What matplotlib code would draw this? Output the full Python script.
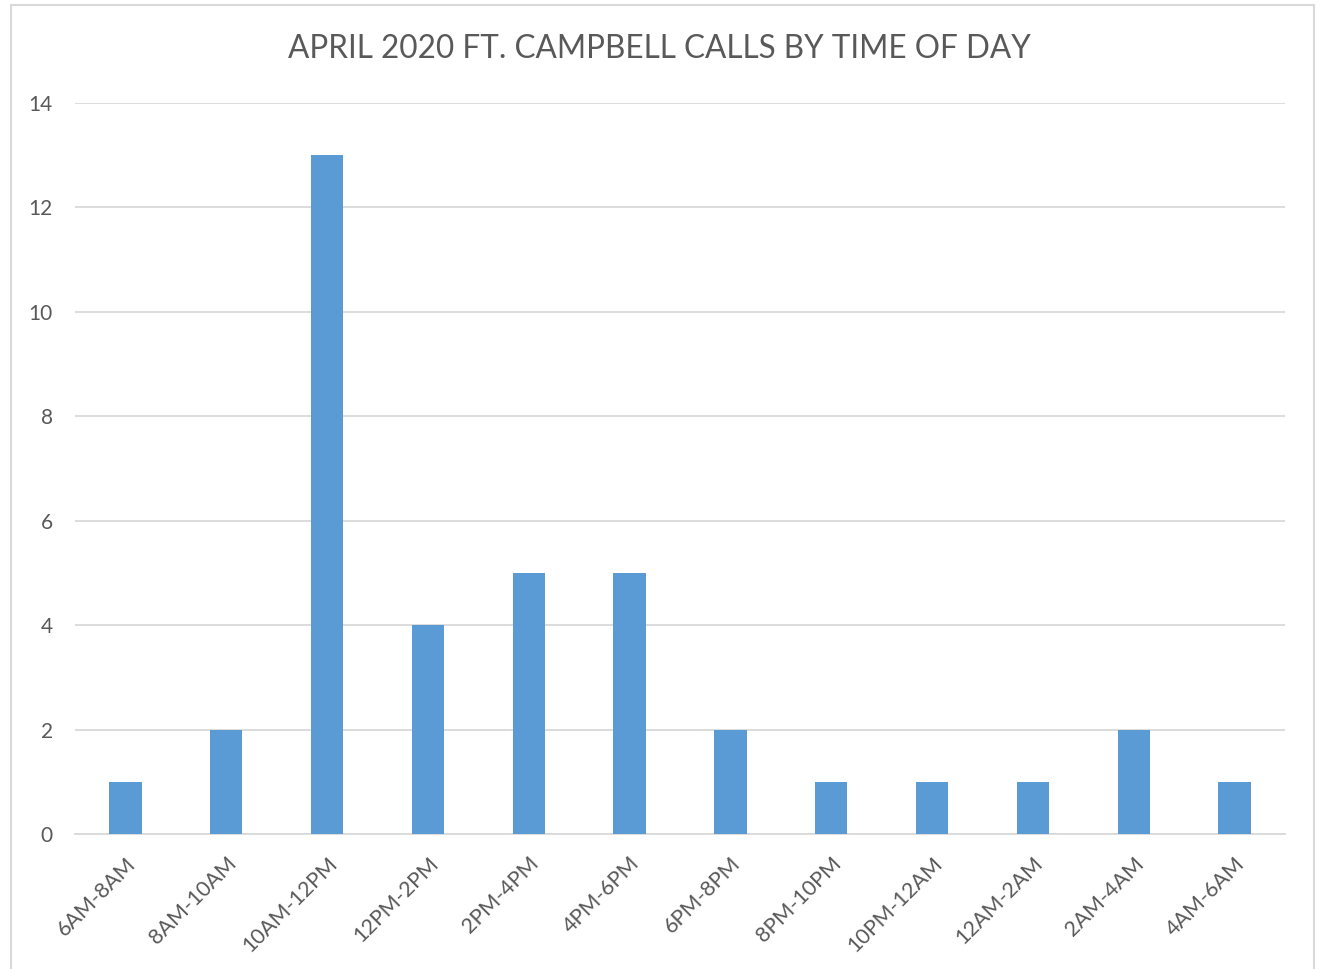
#!/usr/bin/env python3
"""April 2020 Ft. Campbell calls by time of day - bar chart."""
import matplotlib
matplotlib.use("Agg")
import matplotlib.pyplot as plt
from matplotlib.patches import Rectangle

time_slots = ["6AM-8AM", "8AM-10AM", "10AM-12PM", "12PM-2PM", "2PM-4PM", "4PM-6PM",
              "6PM-8PM", "8PM-10PM", "10PM-12AM", "12AM-2AM", "2AM-4AM", "4AM-6AM"]
calls = [1, 2, 13, 4, 5, 5, 2, 1, 1, 1, 2, 1]
y_ticks = [0, 2, 4, 6, 8, 10, 12, 14]

plt.rcParams["font.family"] = ["Lato", "DejaVu Sans"]
text_color = "#595959"
grid_color = "#d9d9d9"

fig = plt.figure(figsize=(13.19, 9.69), dpi=100)
ax = fig.add_axes([75 / 1319, 1 - 834 / 969, 1210 / 1319, 731 / 969])

x = list(range(len(time_slots)))
ax.bar(x, calls, width=0.32, color="#5b9bd5", zorder=3)

ax.set_xlim(-0.5, len(time_slots) - 0.5)
ax.set_ylim(0, 14)
ax.set_yticks(y_ticks)
ax.set_xticks(x)
ax.set_xticklabels(time_slots, rotation=45, ha="right", rotation_mode="anchor")
ax.tick_params(axis="both", length=0, colors=text_color)
ax.tick_params(axis="x", pad=14, labelsize=15.5)
ax.tick_params(axis="y", pad=16, labelsize=15)
ax.grid(axis="y", color=grid_color, linewidth=1.3, zorder=0)
for side in ["top", "right", "left"]:
    ax.spines[side].set_visible(False)
ax.spines["bottom"].set_color(grid_color)
ax.spines["bottom"].set_linewidth(1.3)

fig.text(0.5, 1 - 49 / 969, "APRIL 2020 FT. CAMPBELL CALLS BY TIME OF DAY",
         ha="center", va="center", fontsize=22.7, color=text_color)

# chart border like the spreadsheet frame
fig.patches.append(Rectangle((11 / 1319, -0.01), 1303 / 1319, 1 - 5 / 969 + 0.01,
                             transform=fig.transFigure, fill=False,
                             edgecolor="#d9d9d9", linewidth=1.5))

fig.savefig("out.png", dpi=100)
plt.close(fig)
